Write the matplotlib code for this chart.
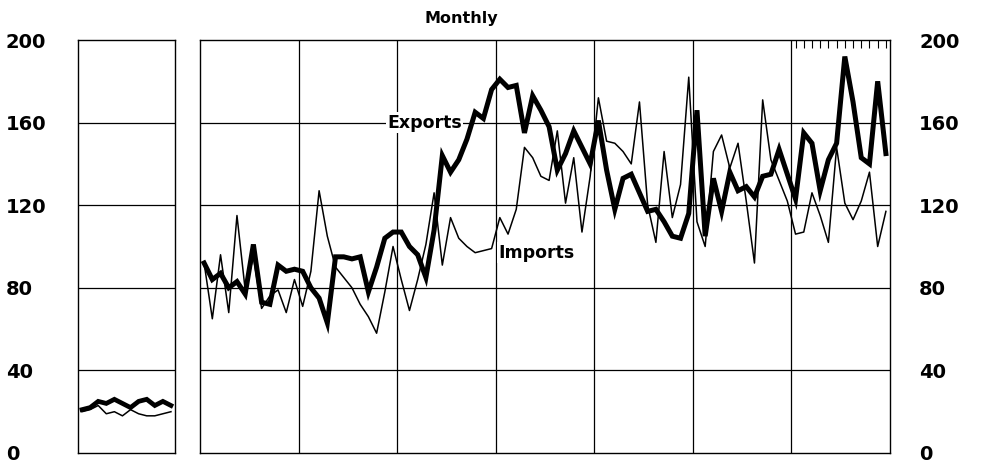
import matplotlib

matplotlib.use("Agg")
import matplotlib.pyplot as plt  # noqa: E402

# prior year (left panel), monthly
prior_exports = [21, 22, 25, 24, 26, 24, 22, 25, 26, 23, 25, 23]
prior_imports = [20, 21, 23, 19, 20, 18, 21, 19, 18, 18, 19, 20]

# seven years of monthly values (main panel)
exports = [92, 84, 87, 80, 83, 77, 101, 73, 72, 91, 88, 89,
           88, 80, 75, 63, 95, 95, 94, 95, 78, 90, 104, 107,
           107, 100, 96, 85, 108, 144, 136, 142, 152, 165, 162, 176,
           181, 177, 178, 155, 173, 166, 158, 137, 145, 156, 148, 140,
           161, 137, 118, 133, 135, 126, 117, 118, 112, 105, 104, 116,
           166, 105, 133, 117, 136, 127, 129, 124, 134, 135, 147, 135,
           123, 155, 150, 127, 142, 150, 192, 170, 143, 140, 180, 145]
imports = [92, 65, 96, 68, 115, 79, 95, 70, 76, 79, 68, 84,
           71, 88, 127, 105, 90, 85, 80, 72, 66, 58, 78, 100,
           84, 69, 84, 101, 126, 91, 114, 104, 100, 97, 98, 99,
           114, 106, 118, 148, 143, 134, 132, 156, 121, 143, 107, 134,
           172, 151, 150, 146, 140, 170, 120, 102, 146, 114, 130, 182,
           112, 100, 146, 154, 138, 150, 122, 92, 171, 142, 132, 122,
           106, 107, 126, 115, 102, 148, 121, 113, 122, 136, 100, 117]

y_ticks = [0, 40, 80, 120, 160, 200]
n_years = 7

plt.rcParams["font.family"] = ["DejaVu Sans"]
plt.rcParams["font.weight"] = "bold"

fig = plt.figure(figsize=(9.82, 4.67), dpi=100)
H = 467
W = 982
bottom = 1 - 453 / H
height = 413 / H
ax_l = fig.add_axes([78 / W, bottom, 97 / W, height])
ax_m = fig.add_axes([200 / W, bottom, 690 / W, height])

for ax in (ax_l, ax_m):
    ax.set_ylim(0, 200)
    for s in ax.spines.values():
        s.set_linewidth(1.0)
        s.set_color("black")
    for y in y_ticks[1:-1]:
        ax.axhline(y, color="black", lw=0.9, zorder=1)
    ax.set_yticks(y_ticks)
    ax.set_xticks([])

# left panel
months_l = range(len(prior_exports))
ax_l.set_xlim(-0.5, 11.5)
ax_l.plot(months_l, prior_exports, color="black", lw=3.4, solid_joinstyle="miter", zorder=3)
ax_l.plot(months_l, prior_imports, color="black", lw=1.1, zorder=2)
ax_l.tick_params(axis="y", length=0, pad=52, labelsize=14)
for lab in ax_l.get_yticklabels():
    lab.set_ha("left")

# main panel
months = range(len(exports))
ax_m.set_xlim(-0.5, len(exports) - 0.5)
for k in range(1, n_years):
    ax_m.axvline(12 * k - 0.5, color="black", lw=0.9, zorder=1)
ax_m.plot(months, imports, color="black", lw=1.1, zorder=2)
ax_m.plot(months, exports, color="black", lw=3.6, solid_joinstyle="miter", zorder=3)
ax_m.tick_params(axis="y", length=0, pad=21, labelsize=14,
                 labelleft=False, labelright=True)

# month ticks along the top of the last year
ax_m.set_xticks(range(12 * (n_years - 1), 12 * n_years))
ax_m.tick_params(axis="x", top=True, bottom=False, direction="in",
                 length=6, width=0.8, labelbottom=False)

ax_m.text(31.4, 160, "Exports", ha="right", va="center", fontsize=12.5,
          zorder=4, bbox=dict(facecolor="white", edgecolor="none", pad=1))
ax_m.text(35.8, 97, "Imports", ha="left", va="center", fontsize=12.5,
          zorder=4, bbox=dict(facecolor="white", edgecolor="none", pad=1))
fig.text(461 / W, 1 - 18 / H, "Monthly", ha="center", va="center",
         fontsize=11.5)

fig.savefig("out.png", dpi=100)
plt.close(fig)
